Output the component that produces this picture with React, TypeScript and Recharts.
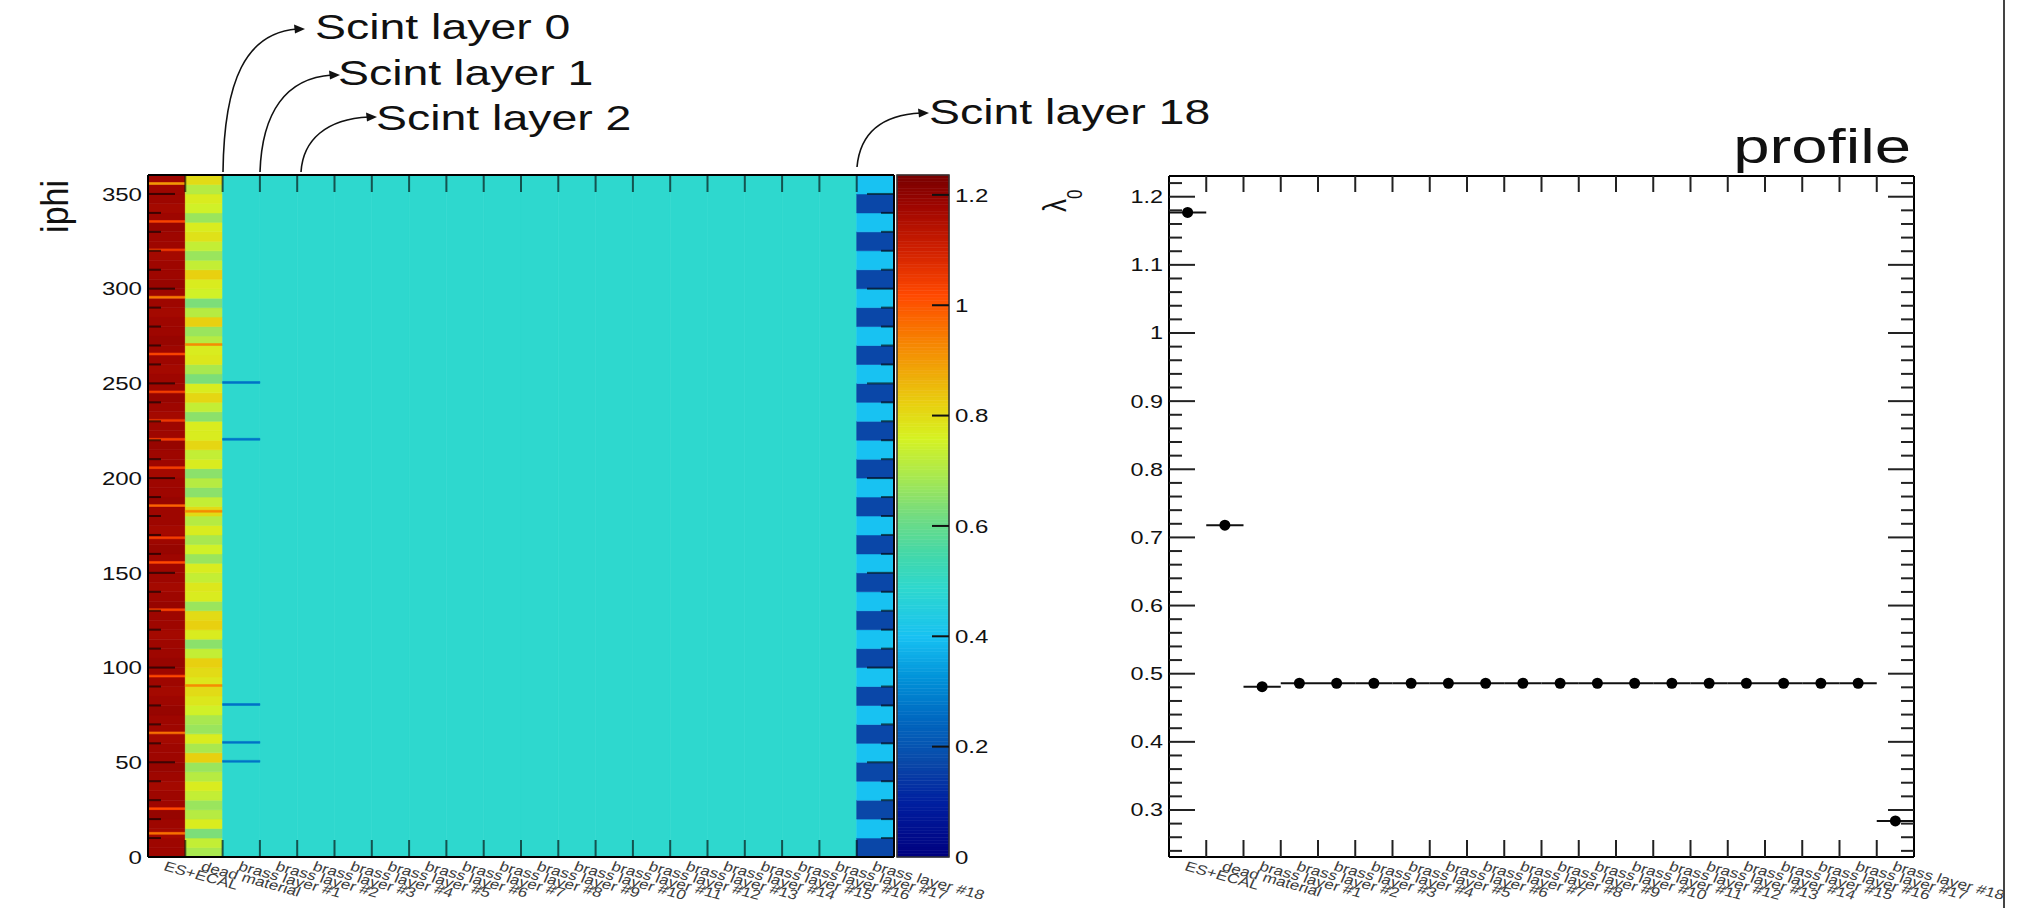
import React from 'react';
import { ComposedChart, XAxis, YAxis, ReferenceArea, Scatter, ErrorBar } from 'recharts';

const FONT = '"Liberation Sans", Arial, Helvetica, sans-serif';
const SX = 1.3;

// ---------- data ----------
const categories = [
  'ES+ECAL', 'dead material',
  'brass layer #1', 'brass layer #2', 'brass layer #3', 'brass layer #4', 'brass layer #5',
  'brass layer #6', 'brass layer #7', 'brass layer #8', 'brass layer #9', 'brass layer #10',
  'brass layer #11', 'brass layer #12', 'brass layer #13', 'brass layer #14', 'brass layer #15',
  'brass layer #16', 'brass layer #17', 'brass layer #18',
];

const profileValues = [
  1.177, 0.718, 0.481, 0.486, 0.486, 0.486, 0.486, 0.486, 0.486, 0.486,
  0.486, 0.486, 0.486, 0.486, 0.486, 0.486, 0.486, 0.486, 0.486, 0.284,
];

// ES+ECAL column, 5-degree bins from iphi 0 upward
const esEcalBins = [
  1.18, 1.18, 1.17, 1.18, 1.19, 1.18, 1.18, 1.17, 1.18, 1.19, 1.18, 1.18,
  1.17, 1.18, 1.18, 1.19, 1.18, 1.17, 1.18, 1.18, 1.19, 1.18, 1.18, 1.17,
  1.18, 1.18, 1.19, 1.18, 1.17, 1.18, 1.18, 1.18, 1.19, 1.18, 1.17, 1.18,
  1.18, 1.19, 1.18, 1.18, 1.17, 1.18, 1.18, 1.19, 1.18, 1.18, 1.17, 1.18,
  1.19, 1.18, 1.18, 1.17, 1.18, 1.18, 1.19, 1.18, 1.18, 1.17, 1.18, 1.18,
  1.19, 1.18, 1.18, 1.17, 1.18, 1.18, 1.19, 1.18, 1.17, 1.18, 1.18, 1.18,
];
// thin lines in ES+ECAL column: [iphi, value]
const esEcalLines = [
  [12, 0.96], [25, 1.02], [65, 0.96], [95, 1.02], [130, 1.03], [155, 1.02], [168, 1.04],
  [185, 0.98], [205, 1.04], [220, 1.04], [230, 1.05], [245, 1.04], [265, 1.03],
  [295, 0.95], [320, 1.05], [335, 1.03], [355, 0.9],
];

// dead material column, 5-degree bins from iphi 0 upward
const deadBins = [
  0.69, 0.73, 0.63, 0.77, 0.71, 0.67, 0.73, 0.77, 0.71, 0.67, 0.82, 0.69,
  0.77, 0.67, 0.69, 0.75, 0.78, 0.80, 0.78, 0.80, 0.82, 0.73, 0.65, 0.77,
  0.82, 0.80, 0.67, 0.77, 0.78, 0.73, 0.77, 0.67, 0.75, 0.69, 0.77, 0.71,
  0.80, 0.73, 0.65, 0.71, 0.65, 0.77, 0.73, 0.81, 0.77, 0.77, 0.65, 0.73,
  0.81, 0.77, 0.63, 0.69, 0.78, 0.77, 0.71, 0.67, 0.82, 0.71, 0.63, 0.75,
  0.77, 0.82, 0.73, 0.67, 0.73, 0.79, 0.77, 0.67, 0.75, 0.77, 0.71, 0.80,
];
const deadLines = [[90, 0.92], [182, 0.92], [270, 0.92]];

// brass layers #1..#17 (uniform in iphi)
const brassValues = [
  0.486, 0.486, 0.486, 0.486, 0.486, 0.486, 0.486, 0.486, 0.486,
  0.486, 0.486, 0.486, 0.486, 0.486, 0.486, 0.486, 0.486,
];
// dips in brass layer #1
const brass1Lines = [[50, 0.27], [60, 0.27], [80, 0.27], [220, 0.27], [250, 0.27]];

// brass layer #18, 10-degree bins from iphi 0 upward
const brass18Bins = [
  0.168, 0.40, 0.168, 0.40, 0.168, 0.40, 0.168, 0.40, 0.168, 0.40, 0.168, 0.40,
  0.168, 0.40, 0.168, 0.40, 0.168, 0.40, 0.168, 0.40, 0.168, 0.40, 0.168, 0.40,
  0.168, 0.40, 0.168, 0.40, 0.168, 0.40, 0.168, 0.40, 0.168, 0.40, 0.168, 0.40,
];

const Z_MAX = 1.236;
const colorbarTicks = [0, 0.2, 0.4, 0.6, 0.8, 1, 1.2];

// ---------- palette ----------
const colorStops: [number, string][] = [
  [0, '#00007f'], [0.1, '#0020a0'], [0.17, '#0a48a8'], [0.25, '#0068c0'], [0.32, '#0090d8'],
  [0.4, '#18c2f2'], [0.487, '#2ed8ce'], [0.55, '#44d8a8'], [0.62, '#74dc80'], [0.7, '#b0ea48'],
  [0.76, '#d6f222'], [0.82, '#e8d010'], [0.88, '#f0a808'], [0.95, '#f87800'], [1.02, '#ff4800'],
  [1.1, '#d02000'], [1.18, '#9e0600'], [1.236, '#780000'],
];
const hex = (h: string) => [1, 3, 5].map((i) => parseInt(h.slice(i, i + 2), 16));
function colorOf(v: number): string {
  if (v <= colorStops[0][0]) return colorStops[0][1];
  for (let i = 1; i < colorStops.length; i++) {
    const [v1, c1] = colorStops[i];
    if (v <= v1) {
      const [v0, c0] = colorStops[i - 1];
      const t = (v - v0) / (v1 - v0);
      const a = hex(c0), b = hex(c1);
      const c = a.map((x, k) => Math.round(x + (b[k] - x) * t));
      return `rgb(${c[0]},${c[1]},${c[2]})`;
    }
  }
  return colorStops[colorStops.length - 1][1];
}

// ---------- heatmap cells ----------
type Cell = { x1: number; x2: number; y1: number; y2: number; v: number };
const cells: Cell[] = [];
esEcalBins.forEach((v, i) => cells.push({ x1: 0, x2: 1, y1: i * 5, y2: i * 5 + 5, v }));
esEcalLines.forEach(([p, v]) => cells.push({ x1: 0, x2: 1, y1: p, y2: p + 1, v }));
deadBins.forEach((v, i) => cells.push({ x1: 1, x2: 2, y1: i * 5, y2: i * 5 + 5, v }));
deadLines.forEach(([p, v]) => cells.push({ x1: 1, x2: 2, y1: p, y2: p + 1, v }));
brassValues.forEach((v, i) => cells.push({ x1: 2 + i, x2: 3 + i, y1: 0, y2: 360, v }));
brass1Lines.forEach(([p, v]) => cells.push({ x1: 2, x2: 3, y1: p, y2: p + 1, v }));
brass18Bins.forEach((v, i) => cells.push({ x1: 19, x2: 20, y1: i * 10, y2: i * 10 + 10, v }));

const profileData = profileValues.map((y, i) => ({ x: i + 0.5, y, xerr: 0.5, name: categories[i] }));

// ---------- helpers ----------
const SText = ({ x, y, size, anchor = 'start', sx = SX, rotate = 0, fill = '#111', dy, children }: any) => (
  <text
    transform={`translate(${x},${y}) scale(${sx},1)${rotate ? ` rotate(${rotate})` : ''}`}
    x={0}
    y={0}
    dy={dy}
    fontSize={size}
    textAnchor={anchor}
    fill={fill}
    fontFamily={FONT}
  >
    {children}
  </text>
);

const range = (a: number, b: number, s: number) => {
  const out: number[] = [];
  for (let k = 0; a + k * s <= b + 1e-9; k++) out.push(Math.round((a + k * s) * 1000) / 1000);
  return out;
};

const boundaryTicks = range(1, 19, 1);
const centerTicks = range(0.5, 19.5, 1);
const bottomTicks = [...boundaryTicks, ...centerTicks].sort((a, b) => a - b);

const TICK_COLOR = 'rgba(0,0,0,0.62)';
const LABEL_ROT = 19;

const XLabel = ({ x, y, text }: any) => (
  <SText x={x - 4} y={y + 13} size={13.5} sx={1.27} rotate={LABEL_ROT} fill="#3c3c3c">
    {text}
  </SText>
);

const BottomTick = (p: any) => {
  const v = p.payload.value;
  if (Number.isInteger(v)) {
    return <line x1={p.x} x2={p.x} y1={p.y} y2={p.y - 17} stroke={TICK_COLOR} strokeWidth={2} />;
  }
  return <XLabel x={p.x} y={p.y} text={categories[Math.floor(v)]} />;
};
const TopTick = (p: any) => (
  <line x1={p.x} x2={p.x} y1={p.y} y2={p.y + 17} stroke={TICK_COLOR} strokeWidth={2} />
);

const HeatLeftTick = (p: any) => {
  const v = p.payload.value;
  const major = v % 50 === 0;
  return (
    <g>
      {v > 0 && v < 360 && (
        <line x1={p.x} x2={p.x + (major ? 27 : 13)} y1={p.y} y2={p.y} stroke={TICK_COLOR} strokeWidth={2} />
      )}
      {major && (
        <SText x={p.x - 6} y={p.y} size={18.5} anchor="end" dy="0.36em">
          {v}
        </SText>
      )}
    </g>
  );
};
const HeatRightTick = (p: any) => {
  const v = p.payload.value;
  const major = v % 50 === 0;
  if (v <= 0 || v >= 360) return <g />;
  return <line x1={p.x} x2={p.x - (major ? 27 : 13)} y1={p.y} y2={p.y} stroke={TICK_COLOR} strokeWidth={2} />;
};

const isMajor01 = (v: number) => Math.abs(v * 10 - Math.round(v * 10)) < 1e-6;
const ProfLeftTick = (p: any) => {
  const v = p.payload.value;
  const major = isMajor01(v);
  return (
    <g>
      <line x1={p.x} x2={p.x + (major ? 26 : 13)} y1={p.y} y2={p.y} stroke="#222" strokeWidth={2} />
      {major && (
        <SText x={p.x - 6} y={p.y} size={18} anchor="end" dy="0.36em">
          {String(Number(v.toFixed(1)))}
        </SText>
      )}
    </g>
  );
};
const ProfRightTick = (p: any) => {
  const v = p.payload.value;
  const major = isMajor01(v);
  return <line x1={p.x} x2={p.x - (major ? 26 : 13)} y1={p.y} y2={p.y} stroke="#222" strokeWidth={2} />;
};
const ProfBottomTick = (p: any) => {
  const v = p.payload.value;
  if (Number.isInteger(v)) {
    return <line x1={p.x} x2={p.x} y1={p.y} y2={p.y - 17} stroke="#222" strokeWidth={2} />;
  }
  return <XLabel x={p.x} y={p.y} text={categories[Math.floor(v)]} />;
};
const ProfTopTick = (p: any) => (
  <line x1={p.x} x2={p.x} y1={p.y} y2={p.y + 16} stroke="#222" strokeWidth={2} />
);

const ColorbarTick = (p: any) => {
  const v = p.payload.value;
  return (
    <g>
      {v > 0 && <line x1={p.x} x2={p.x - 17} y1={p.y} y2={p.y} stroke="#111" strokeWidth={2} />}
      <SText x={p.x + 6} y={p.y} size={18.5} dy="0.36em">
        {String(v)}
      </SText>
    </g>
  );
};

const CB_STEP = 0.006;
const cbSlices = range(0, Z_MAX - CB_STEP, CB_STEP);
const heatYTicks = range(0, 360, 10);
const profYTicks = range(0.24, 1.22, 0.02);

const axisLine = { stroke: '#000', strokeWidth: 2 };

const Dot = (p: any) => <circle cx={p.cx} cy={p.cy} r={5.5} fill="#000" />;

export default function App() {
  return (
    <div style={{ position: 'absolute', left: 0, top: 0, width: 2018, height: 908, background: '#fff', overflow: 'hidden' }}>
      {/* heatmap */}
      <div style={{ position: 'absolute', left: 0, top: 0 }}>
        <ComposedChart width={1000} height={908} margin={{ top: 173, right: 104, bottom: 49, left: 146 }}>
          <XAxis xAxisId="b" type="number" dataKey="x" domain={[0, 20]} allowDataOverflow ticks={bottomTicks} interval={0}
            height={2} tickSize={0} tickMargin={0} tickLine={false} axisLine={axisLine} tick={BottomTick} />
          <XAxis xAxisId="t" orientation="top" type="number" dataKey="x" domain={[0, 20]} allowDataOverflow ticks={boundaryTicks}
            interval={0} height={2} tickSize={0} tickMargin={0} tickLine={false} axisLine={axisLine} tick={TopTick} />
          <YAxis yAxisId="l" type="number" domain={[0, 360]} allowDataOverflow ticks={heatYTicks} interval={0}
            width={2} tickSize={0} tickMargin={0} tickLine={false} axisLine={axisLine} tick={HeatLeftTick} />
          <YAxis yAxisId="r" orientation="right" type="number" domain={[0, 360]} allowDataOverflow ticks={heatYTicks} interval={0}
            width={2} tickSize={0} tickMargin={0} tickLine={false} axisLine={axisLine} tick={HeatRightTick} />
          {cells.map((c, i) => (
            <ReferenceArea key={i} xAxisId="b" yAxisId="l" x1={c.x1} x2={c.x2} y1={c.y1} y2={c.y2}
              fill={colorOf(c.v)} fillOpacity={1} stroke={colorOf(c.v)} strokeWidth={0.6} ifOverflow="visible" />
          ))}
        </ComposedChart>
      </div>

      {/* colour bar */}
      <div style={{ position: 'absolute', left: 880, top: 0 }}>
        <ComposedChart width={130} height={908} margin={{ top: 175, right: 59, bottom: 49, left: 17 }}>
          <XAxis xAxisId="cb" type="number" dataKey="x" domain={[0, 1]} allowDataOverflow height={2}
            tick={false} tickLine={false} axisLine={false} />
          <YAxis yAxisId="cb" orientation="right" type="number" domain={[0, Z_MAX]} allowDataOverflow ticks={colorbarTicks} interval={0}
            width={2} tickSize={0} tickMargin={0} tickLine={false} axisLine={false} tick={ColorbarTick} />
          {cbSlices.map((v, i) => (
            <ReferenceArea key={i} xAxisId="cb" yAxisId="cb" x1={0} x2={1} y1={v} y2={Math.min(v + CB_STEP, Z_MAX)}
              fill={colorOf(v + CB_STEP / 2)} fillOpacity={1} stroke={colorOf(v + CB_STEP / 2)} strokeWidth={0.6} ifOverflow="visible" />
          ))}
          <ReferenceArea xAxisId="cb" yAxisId="cb" x1={0} x2={1} y1={0} y2={Z_MAX} fill="none" fillOpacity={0}
            stroke="#333" strokeWidth={1.5} ifOverflow="visible" />
        </ComposedChart>
      </div>

      {/* profile */}
      <div style={{ position: 'absolute', left: 1000, top: 0 }}>
        <ComposedChart width={1018} height={908} margin={{ top: 174, right: 102, bottom: 49, left: 167 }} data={profileData}>
          <XAxis xAxisId="b" type="number" dataKey="x" domain={[0, 20]} allowDataOverflow ticks={bottomTicks} interval={0}
            height={2} tickSize={0} tickMargin={0} tickLine={false} axisLine={axisLine} tick={ProfBottomTick} />
          <XAxis xAxisId="t" orientation="top" type="number" dataKey="x" domain={[0, 20]} allowDataOverflow ticks={boundaryTicks}
            interval={0} height={2} tickSize={0} tickMargin={0} tickLine={false} axisLine={axisLine} tick={ProfTopTick} />
          <YAxis yAxisId="l" type="number" dataKey="y" domain={[0.231, 1.2304]} allowDataOverflow ticks={profYTicks} interval={0}
            width={2} tickSize={0} tickMargin={0} tickLine={false} axisLine={axisLine} tick={ProfLeftTick} />
          <YAxis yAxisId="r" orientation="right" type="number" dataKey="y" domain={[0.231, 1.2304]} allowDataOverflow ticks={profYTicks}
            interval={0} width={2} tickSize={0} tickMargin={0} tickLine={false} axisLine={axisLine} tick={ProfRightTick} />
          <Scatter xAxisId="b" yAxisId="l" dataKey="y" data={profileData} isAnimationActive={false} shape={Dot}>
            <ErrorBar dataKey="xerr" direction="x" width={0} stroke="#111" strokeWidth={2} />
          </Scatter>
        </ComposedChart>
      </div>

      {/* titles, axis titles and annotations */}
      <svg width={2018} height={908} style={{ position: 'absolute', left: 0, top: 0, pointerEvents: 'none' }}>
        <g fill="none" stroke="#111" strokeWidth={1.6}>
          <path d="M223,172 C224,80 246,33 297,29" />
          <path d="M260,172 C262,112 286,78 332,75" />
          <path d="M301,172 C303,140 326,119 369,117" />
          <path d="M857,167 C860,134 881,115 921,113" />
        </g>
        <g fill="#111">
          <polygon points="305,29 294,24.5 295,33.5" />
          <polygon points="340,75 329,70.5 330,79.5" />
          <polygon points="377,117 366,112.5 367,121.5" />
          <polygon points="929,113 918,108.5 919,117.5" />
        </g>
        <SText x={315} y={39} size={36} sx={1.29}>Scint layer 0</SText>
        <SText x={338} y={85} size={36} sx={1.29}>Scint layer 1</SText>
        <SText x={376} y={130} size={36} sx={1.29}>Scint layer 2</SText>
        <SText x={929} y={124} size={36} sx={1.29}>Scint layer 18</SText>

        <SText x={1911} y={163} size={48} sx={1.36} anchor="end">profile</SText>

        <text transform={`translate(68,180) scale(1.15,1) rotate(-90)`} fontSize={34} textAnchor="end" fontFamily={FONT} fill="#111">
          iphi
        </text>
        <text transform={`translate(1066,212) scale(1.3,1) rotate(-90)`} fontSize={26} textAnchor="start" fontFamily={FONT} fill="#111">
          λ<tspan dy={12} fontSize={17}>0</tspan>
        </text>

        <line x1={2004} x2={2004} y1={0} y2={908} stroke="#444" strokeWidth={2} />
      </svg>
    </div>
  );
}
